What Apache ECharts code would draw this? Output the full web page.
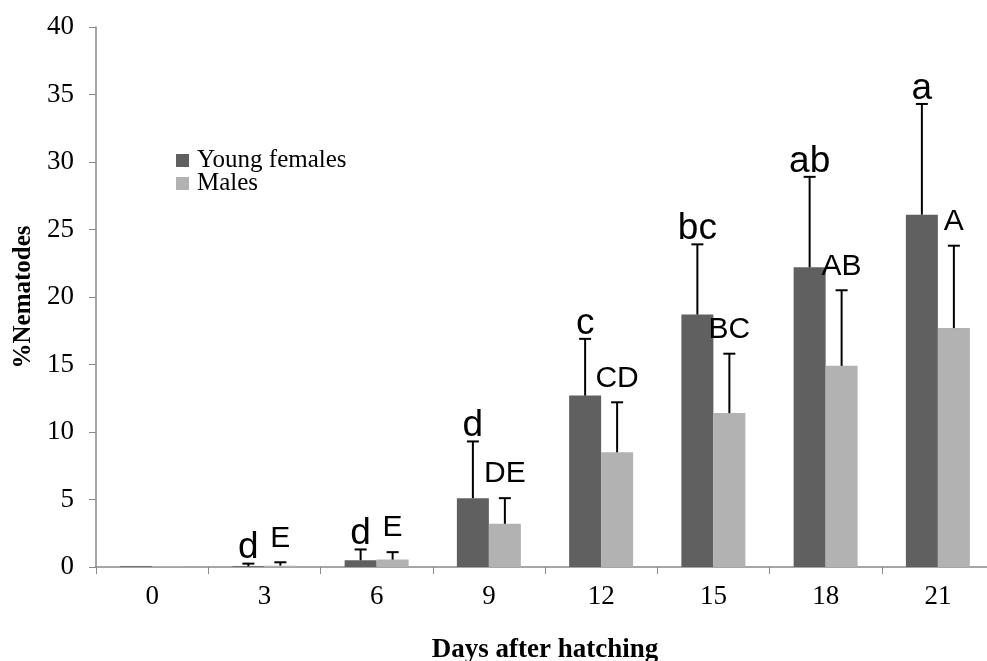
<!DOCTYPE html>
<html>
<head>
<meta charset="utf-8">
<script src="https://cdn.jsdelivr.net/npm/echarts@6/dist/echarts.min.js"></script>
<style>
  html, body { margin: 0; padding: 0; background: #fff; }
  #chart { width: 987px; height: 661px; }
</style>
</head>
<body>
<div id="chart"></div>
<script>
// data
var days = ["0", "3", "6", "9", "12", "15", "18", "21"];
var femaleMeans = [0.05, 0.05, 0.5, 5.1, 12.7, 18.7, 22.2, 26.1];
var femaleErrTop = [0.05, 0.25, 1.3, 9.3, 16.9, 23.9, 28.9, 34.3];
var maleMeans = [0.05, 0.1, 0.55, 3.2, 8.5, 11.4, 14.9, 17.7];
var maleErrTop = [0.05, 0.35, 1.1, 5.1, 12.2, 15.8, 20.5, 23.8];
var femaleLetters = ["", "d", "d", "d", "c", "bc", "ab", "a"];
var maleLetters = ["", "E", "E", "DE", "CD", "BC", "AB", "A"];

var BAR_SHARE = 0.285; // each bar as a share of the category band

function errorItem(side, letters, fontSize, lift) {
  return function (params, api) {
    var i = api.value(0);
    var base = api.coord([i, api.value(1)]);
    var top = api.coord([i, api.value(2)]);
    var band = api.size([1, 0])[0];
    var x = base[0] + side * band * BAR_SHARE / 2;
    var children = [];
    if (api.value(2) > api.value(1)) {
      children.push({
        type: "line",
        shape: { x1: x, y1: base[1], x2: x, y2: top[1] },
        style: { stroke: "#000", lineWidth: 2 }
      });
      children.push({
        type: "line",
        shape: { x1: x - 6, y1: top[1], x2: x + 6, y2: top[1] },
        style: { stroke: "#000", lineWidth: 2 }
      });
    }
    if (letters[i]) {
      children.push({
        type: "text",
        style: {
          text: letters[i],
          x: x,
          y: top[1] - lift,
          align: "center",
          verticalAlign: "bottom",
          font: fontSize + "px 'Liberation Sans', Arial, sans-serif",
          fill: "#000"
        }
      });
    }
    return { type: "group", children: children };
  };
}

var chart = echarts.init(document.getElementById("chart"));
chart.setOption({
  animation: false,
  textStyle: { fontFamily: "'Liberation Serif', 'Times New Roman', serif" },
  grid: { left: 96, top: 27, width: 898, bottom: 94, outerBoundsMode: "none", containLabel: false },
  legend: {
    orient: "vertical",
    left: 171,
    top: 143,
    itemWidth: 13,
    itemHeight: 13,
    itemGap: -2,
    icon: "rect",
    data: ["Young females", "Males"],
    textStyle: { fontSize: 25, color: "#000", fontFamily: "'Liberation Serif', serif", padding: [0, 0, 0, 3] }
  },
  xAxis: {
    type: "category",
    data: days,
    name: "Days after hatching",
    nameLocation: "middle",
    nameGap: 70,
    nameTextStyle: { fontSize: 27, fontWeight: "bold", color: "#000" },
    axisLine: { lineStyle: { color: "#898989", width: 1.5 } },
    axisTick: { show: true, length: 7, lineStyle: { color: "#898989" } },
    axisLabel: { fontSize: 27, color: "#000", margin: 16 }
  },
  yAxis: {
    type: "value",
    min: 0,
    max: 40,
    interval: 5,
    name: "%Nematodes",
    nameLocation: "middle",
    nameGap: 52,
    nameTextStyle: { fontSize: 25, fontWeight: "bold", color: "#000" },
    splitLine: { show: false },
    axisLine: { show: true, lineStyle: { color: "#898989", width: 1.5 } },
    axisTick: { show: true, length: 7, lineStyle: { color: "#898989" } },
    axisLabel: { fontSize: 27, color: "#000", margin: 22 }
  },
  series: [
    {
      name: "Young females",
      type: "bar",
      data: femaleMeans,
      barWidth: (BAR_SHARE * 100) + "%",
      barGap: "0%",
      itemStyle: { color: "#606060" }
    },
    {
      name: "Males",
      type: "bar",
      data: maleMeans,
      barWidth: (BAR_SHARE * 100) + "%",
      barGap: "0%",
      itemStyle: { color: "#b2b2b2" }
    },
    {
      type: "custom",
      renderItem: errorItem(-1, femaleLetters, 37, -3),
      data: femaleMeans.map(function (v, i) { return [i, v, femaleErrTop[i]]; }),
      z: 5
    },
    {
      type: "custom",
      renderItem: errorItem(1, maleLetters, 30, 9),
      data: maleMeans.map(function (v, i) { return [i, v, maleErrTop[i]]; }),
      z: 5
    }
  ]
});
</script>
</body>
</html>
